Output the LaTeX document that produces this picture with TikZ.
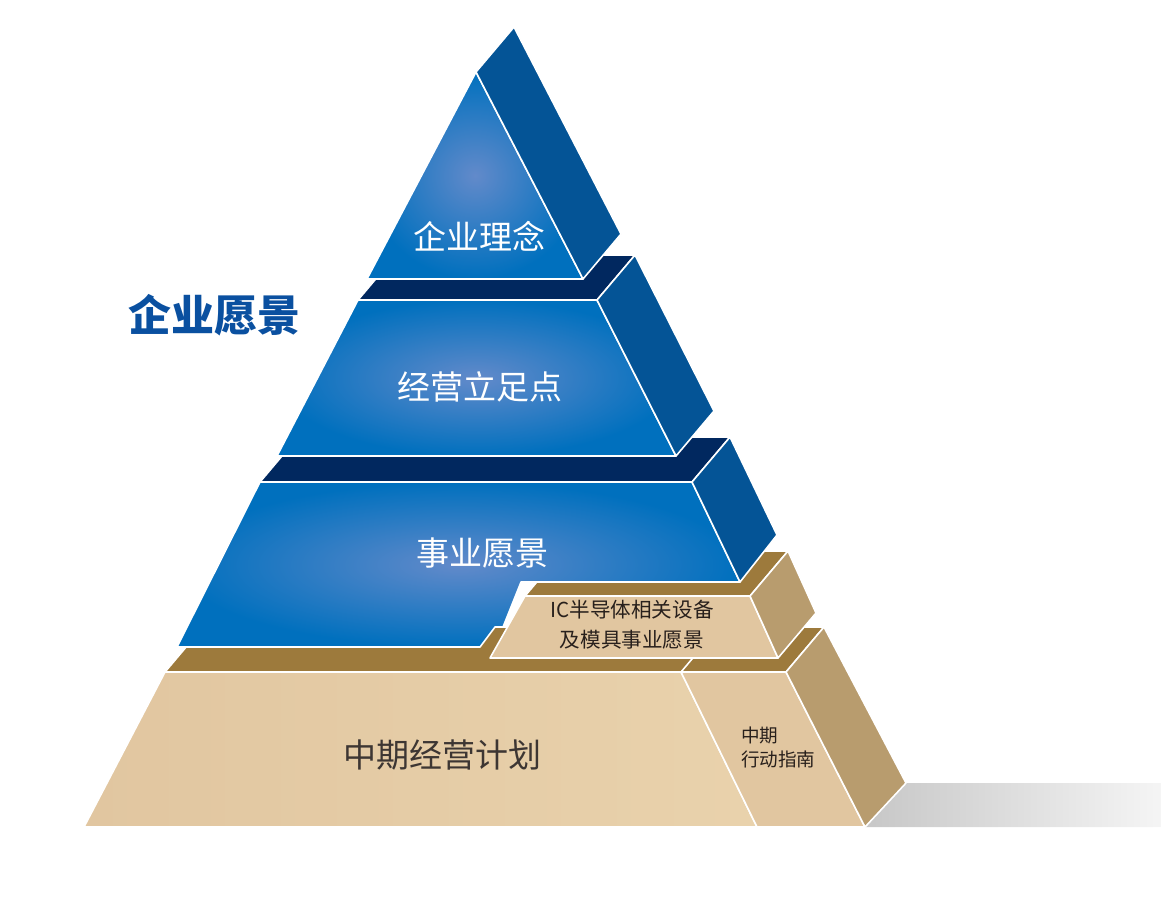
\documentclass[tikz,border=0pt]{standalone}
\usepackage{fontspec}
\newfontfamily\cjk{Noto Sans CJK SC}
\definecolor{pyrblue}{RGB}{0,112,190}
\definecolor{pyrlight}{RGB}{98,138,202}
\definecolor{pyrside}{RGB}{4,84,150}
\definecolor{pyrnavy}{RGB}{1,40,95}
\definecolor{sand}{RGB}{225,198,160}
\definecolor{sandlight}{RGB}{233,210,172}
\definecolor{sandside}{RGB}{184,156,110}
\definecolor{gold}{RGB}{157,122,60}
\definecolor{titleblue}{RGB}{10,80,160}
\definecolor{ink}{RGB}{40,32,28}
\begin{document}
\begin{tikzpicture}[x=0.5pt, y=-0.5pt,
    face/.style={draw=white, line width=0.8pt, line join=round},
    bluefront/.style={face, inner color=pyrlight, outer color=pyrblue},
    blueside/.style={face, fill=pyrside},
    navyledge/.style={face, fill=pyrnavy},
    sandfront/.style={face, left color=sand, right color=sandlight},
    sandside/.style={face, fill=sandside},
    goldledge/.style={face, fill=gold},
    whitelabel/.style={text=white, font=\cjk\fontsize{16.5}{18}\selectfont},
    sandlabel/.style={text=ink, align=center}]

    \useasboundingbox (0, 0) rectangle (1161, 916);

    % shadow
    \shade[left color=black!22, right color=black!4] (906, 783) -- (1161, 783) -- (1161, 827) -- (865, 827) -- cycle;

    % bottom tier
    \draw[goldledge] (165, 672) -- (786, 672) -- (824, 627) -- (203, 627) -- cycle;
    \draw[white, line width=0.8pt] (681, 672) -- (719, 627);
    \draw[sandfront] (165, 672) -- (681, 672) -- (757, 827) -- (84, 827) -- cycle;
    \draw[face, fill=sand] (681, 672) -- (786, 672) -- (865, 827) -- (757, 827) -- cycle;
    \draw[sandside] (786, 672) -- (824, 627) -- (906, 783) -- (865, 827) -- cycle;

    % IC block
    \draw[goldledge] (525, 596) -- (750, 596) -- (788, 551) -- (563, 551) -- cycle;
    \draw[face, fill=sand] (525, 596) -- (750, 596) -- (778, 658) -- (490, 658) -- cycle;
    \draw[sandside] (750, 596) -- (788, 551) -- (816, 613) -- (778, 658) -- cycle;

    % third tier
    \draw[navyledge] (260, 482) -- (692, 482) -- (730, 437) -- (298, 437) -- cycle;
    \draw[bluefront] (260, 482) -- (692, 482) -- (740, 582) -- (521, 582) -- (503, 627)
        -- (495, 627) -- (480, 647) -- (177, 647) -- cycle;
    \draw[blueside] (692, 482) -- (730, 437) -- (777, 535) -- (740, 582) -- cycle;

    % second tier
    \draw[navyledge] (358, 300) -- (597, 300) -- (635, 255) -- (396, 255) -- cycle;
    \draw[bluefront] (358, 300) -- (597, 300) -- (676, 456) -- (277, 456) -- cycle;
    \draw[blueside] (597, 300) -- (635, 255) -- (714, 411) -- (676, 456) -- cycle;

    % top tier
    \draw[bluefront] (476, 72) -- (583, 279) -- (367, 279) -- cycle;
    \draw[blueside] (476, 72) -- (514, 27) -- (621, 234) -- (583, 279) -- cycle;

    \node[whitelabel] (philosophy) at (479, 236) {企业理念};
    \node[whitelabel] (standpoint) at (480, 387) {经营立足点};
    \node[whitelabel] (bizvision) at (482, 553) {事业愿景};
    \node[sandlabel, font=\cjk\fontsize{10.3}{15}\selectfont] (icvision) at (632, 625)
        {IC半导体相关设备\\及模具事业愿景};
    \node[sandlabel, text=ink!90, font=\cjk\fontsize{16.5}{18}\selectfont] (midplan) at (442, 755) {中期经营计划};
    \node[sandlabel, align=left, anchor=west, font=\cjk\fontsize{9.3}{12}\selectfont] (guide) at (734, 747)
        {中期\\行动指南};
    \node[text=titleblue, font=\cjk\bfseries\fontsize{21.5}{24}\selectfont] (vision) at (214, 315) {企业愿景};

\end{tikzpicture}
\end{document}
